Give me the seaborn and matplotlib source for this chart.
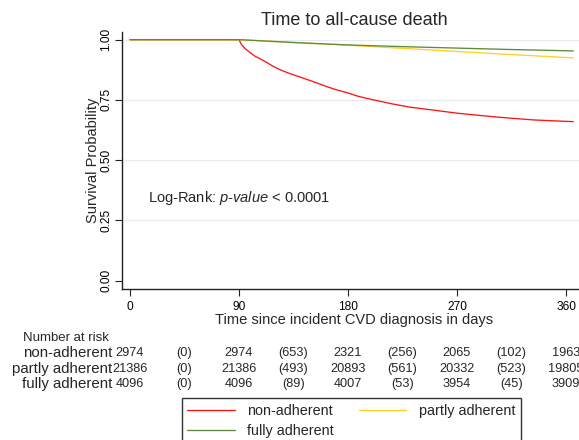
import numpy as np
import pandas as pd
import seaborn as sns
import matplotlib.pyplot as plt
import matplotlib.transforms as mtransforms

# Kaplan-Meier curves (days, survival)
groups = ["non-adherent", "partly adherent", "fully adherent"]
colors = ["#ff1414", "#ffd21f", "#5e8a3e"]

non_days = [0, 90, 92, 95, 99, 103, 108, 113, 118, 124, 131, 138, 146, 154, 162,
            171, 180, 187, 195, 204, 217, 231, 250, 270, 290, 305, 333, 360, 366]
non_surv = [1.0, 1.0, 0.98, 0.963, 0.947, 0.932, 0.919, 0.905, 0.89, 0.875, 0.861,
            0.849, 0.835, 0.821, 0.806, 0.791, 0.779, 0.767, 0.757, 0.747, 0.733,
            0.72, 0.708, 0.695, 0.685, 0.678, 0.667, 0.661, 0.66]

partly_days = [0, 90, 135, 180, 225, 270, 315, 360, 366]
partly_surv = [1.0, 1.0, 0.989, 0.977, 0.964, 0.951, 0.938, 0.926, 0.924]

fully_days = [0, 90, 135, 180, 225, 270, 315, 360, 366]
fully_surv = [1.0, 1.0, 0.988, 0.978, 0.971, 0.965, 0.959, 0.954, 0.953]

# risk table
risk_days = [0, 90, 180, 270, 360]
event_days = [45, 135, 225, 315]
non_risk = [2974, 2974, 2321, 2065, 1963]
partly_risk = [21386, 21386, 20893, 20332, 19805]
fully_risk = [4096, 4096, 4007, 3954, 3909]
non_events = [0, 653, 256, 102]
partly_events = [0, 493, 561, 523]
fully_events = [0, 89, 53, 45]

xticks = [0, 90, 180, 270, 360]
yticks = [0.0, 0.25, 0.5, 0.75, 1.0]

df = pd.concat([
    pd.DataFrame({"day": non_days, "surv": non_surv, "group": groups[0]}),
    pd.DataFrame({"day": partly_days, "surv": partly_surv, "group": groups[1]}),
    pd.DataFrame({"day": fully_days, "surv": fully_surv, "group": groups[2]}),
])

sns.set_style("white")
plt.rcParams["font.family"] = ["Liberation Sans", "DejaVu Sans"]
plt.rcParams["mathtext.fontset"] = "custom"
plt.rcParams["mathtext.it"] = "Liberation Sans:italic"
plt.rcParams["mathtext.rm"] = "Liberation Sans"

fig = plt.figure(figsize=(5.79, 4.40), dpi=100)
W, H = 579.0, 440.0
ax = fig.add_axes([122 / W, 1 - 289 / H, 464 / W, (289 - 31.7) / H])

sns.lineplot(data=df, x="day", y="surv", hue="group", hue_order=groups,
             palette=colors, estimator=None, sort=False, linewidth=0.95, ax=ax)

ax.set_xlim(-6.6, 376.5)
ax.set_ylim(-0.0345, 1.033)
ax.set_xticks(xticks)
ax.set_yticks(yticks)
ax.set_yticklabels([f"{v:.2f}" for v in yticks], rotation=90, va="center")
ax.tick_params(axis="both", direction="out", length=5, width=0.8,
               colors="#222222", labelsize=8.6, pad=3.5, left=True, bottom=True)
ax.tick_params(axis="y", pad=2)
for t in ax.get_yticklabels() + ax.get_xticklabels():
    t.set_color("black")

for v in yticks[1:]:
    ax.axhline(v, color="#e4ecf2", lw=0.8, zorder=0)

sns.despine(ax=ax)
for s in ["left", "bottom"]:
    ax.spines[s].set_color("#222222")
    ax.spines[s].set_linewidth(1.0)

ax.set_title("Time to all-cause death", fontsize=13, pad=5)
ax.set_xlabel("Time since incident CVD diagnosis in days", fontsize=10.5, labelpad=0)
ax.set_ylabel("Survival Probability", fontsize=10.5, labelpad=0.5)

ax.text(15.1, 0.342, r"Log-Rank: $\mathit{p}$-$\mathit{value}$ < 0.0001",
        fontsize=10.5, va="center", ha="left")

# legend below the risk table
handles, labels = ax.get_legend_handles_labels()
ax.get_legend().remove()
order = [0, 2, 1]
fig.legend([handles[i] for i in order], [labels[i] for i in order],
           loc="upper left", bbox_to_anchor=(181.7 / W, 1 - 398 / H), ncol=2,
           fontsize=10.4, handlelength=3.3, handletextpad=0.85, columnspacing=1.7,
           borderpad=0.4, labelspacing=0.45, borderaxespad=0, frameon=True,
           fancybox=False, edgecolor="#333333", framealpha=1)

# number at risk table
trans = mtransforms.blended_transform_factory(ax.transData, fig.transFigure)
fig.text(23 / W, 1 - 337.5 / H, "Number at risk", fontsize=9.5, va="center", ha="left")
rows = [(groups[0], non_risk, non_events, 353.3),
        (groups[1], partly_risk, partly_events, 368.5),
        (groups[2], fully_risk, fully_events, 383.7)]
for name, risk, events, ypx in rows:
    yf = 1 - ypx / H
    fig.text(112 / W, yf, name, fontsize=10.8, va="center", ha="right")
    for d, n in zip(risk_days, risk):
        ax.text(d, yf, str(n), transform=trans, fontsize=9.2, ha="center",
                va="center", clip_on=False)
    for d, n in zip(event_days, events):
        ax.text(d, yf, f"({n})", transform=trans, fontsize=9.2, ha="center",
                va="center", clip_on=False)

fig.savefig("out.png", dpi=100)
